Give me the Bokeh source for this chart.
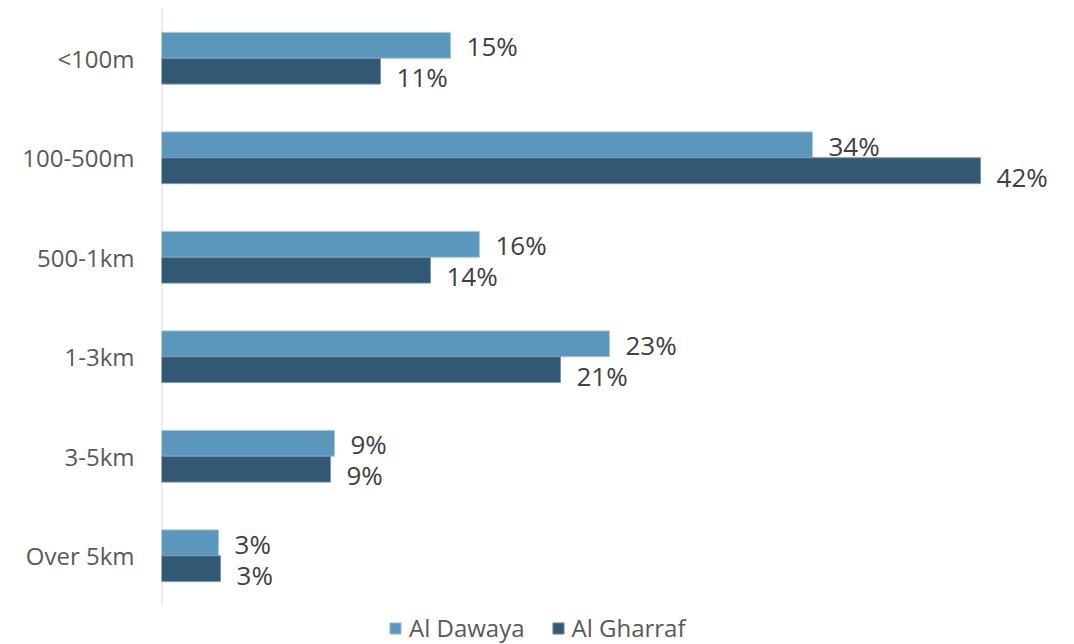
from bokeh.plotting import figure
from bokeh.models import ColumnDataSource, Range1d, Legend, LegendItem, FixedTicker
from bokeh.core.properties import value
from bokeh.embed import file_html
from bokeh.resources import INLINE

categories = ["<100m", "100-500m", "500-1km", "1-3km", "3-5km", "Over 5km"]
al_dawaya = [14.94, 33.64, 16.43, 23.15, 8.94, 2.95]
al_gharraf = [11.32, 42.33, 13.90, 20.62, 8.73, 3.05]
series_names = ["Al Dawaya", "Al Gharraf"]

LIGHT = "#5B96BC"
DARK = "#325874"
FONT = "Open Sans"

n = len(categories)
pos = [n - 1 - i for i in range(n)]
BAR_H = 0.26

src = ColumnDataSource(dict(
    pos=pos,
    yd=[y + BAR_H / 2 for y in pos],
    yg=[y - BAR_H / 2 for y in pos],
    d=al_dawaya,
    g=al_gharraf,
    dl=[f"{round(v)}%" for v in al_dawaya],
    gl=[f"{round(v)}%" for v in al_gharraf],
))

H = 644
TOP = 8
unit_px = 99.5
y_top = n - 0.5
y_bottom = y_top - (H - TOP) / unit_px

p = figure(width=1066, height=H, output_backend="svg", toolbar_location=None,
           y_range=Range1d(y_bottom, y_top), x_range=Range1d(0, 46.77),
           min_border_left=161, min_border_right=0, min_border_top=TOP, min_border_bottom=0)

# axis line (category span only)
p.segment(x0=[0], y0=[-0.5], x1=[0], y1=[y_top], line_color="#D9D9D9", line_width=2)

rd = p.hbar(y="yd", right="d", left=0, height=BAR_H, source=src,
            fill_color=LIGHT, line_color="#A9C7DC", line_width=1)
rg = p.hbar(y="yg", right="g", left=0, height=BAR_H, source=src,
            fill_color=DARK, line_color="#7C97AB", line_width=1)

p.text(x="d", y="yd", text="dl", source=src,
       x_offset=16, y_offset=1, text_baseline="middle", text_align="left",
       text_font=value(FONT), text_font_size="26px", text_color="#404040")
p.text(x="g", y="yg", text="gl", source=src,
       x_offset=16, y_offset=6, text_baseline="middle", text_align="left",
       text_font=value(FONT), text_font_size="26px", text_color="#404040")

p.xaxis.visible = False
p.xgrid.visible = False
p.ygrid.visible = False
p.outline_line_color = None
yax = p.yaxis[0]
yax.ticker = FixedTicker(ticks=pos)
yax.major_label_overrides = {y: c for y, c in zip(pos, categories)}
yax.axis_line_color = None
yax.major_tick_line_color = None
yax.minor_tick_line_color = None
yax.major_label_standoff = 21
yax.major_label_text_font = FONT
yax.major_label_text_font_size = "24px"
yax.major_label_text_color = "#595959"
yax.major_label_text_font_style = "normal"

legend = Legend(items=[LegendItem(label=series_names[0], renderers=[rd]),
                       LegendItem(label=series_names[1], renderers=[rg])],
                orientation="horizontal", location=(227, 0),
                label_text_font=FONT, label_text_font_size="24px", label_text_color="#595959",
                glyph_width=14, glyph_height=14, label_standoff=7, spacing=26,
                padding=0, margin=0, border_line_color=None, background_fill_alpha=0)
p.add_layout(legend)

open("out.html", "w").write(file_html(p, INLINE))
